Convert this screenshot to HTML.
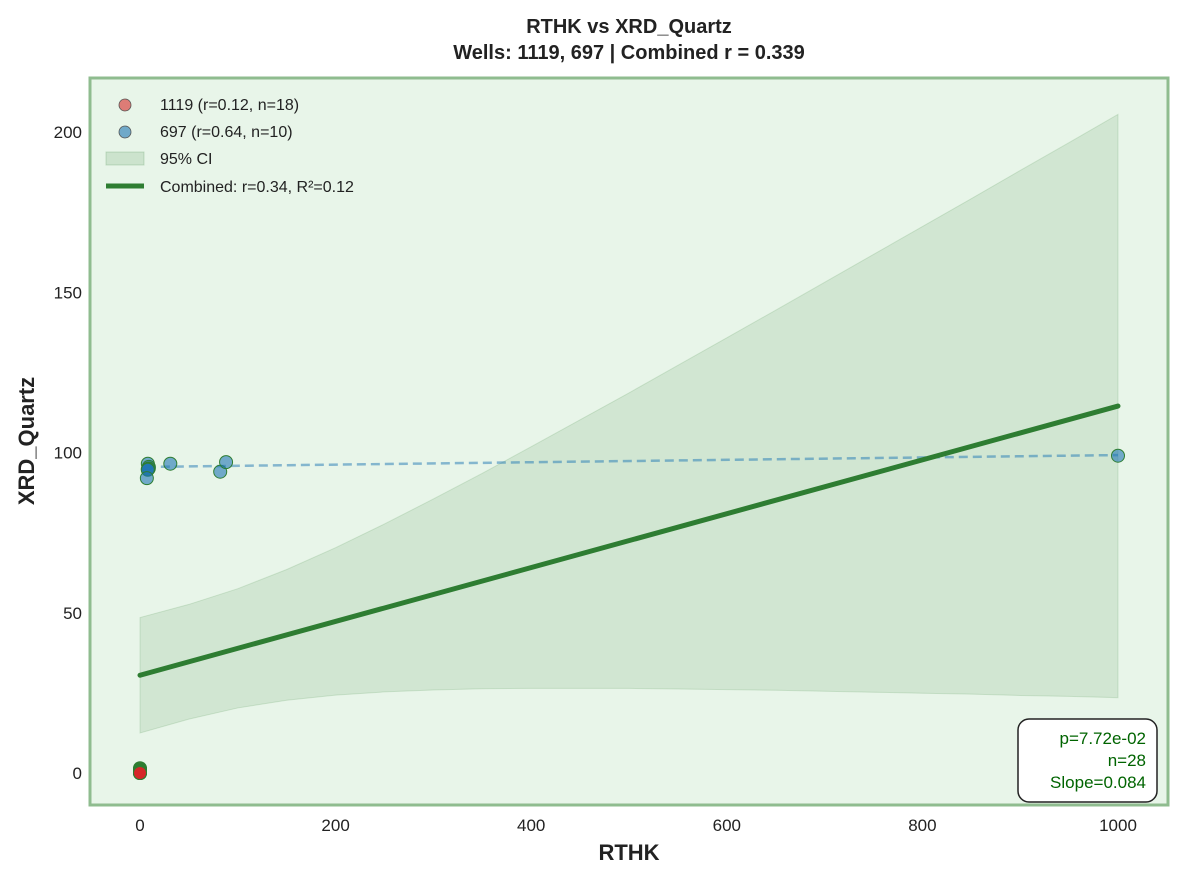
<!DOCTYPE html>
<html><head><meta charset="utf-8"><style>
body{margin:0;background:#fff;font-family:"Liberation Sans",sans-serif}
</style></head><body>
<svg id="chart" width="1182" height="880" viewBox="0 0 1182 880" xmlns="http://www.w3.org/2000/svg" font-family="Liberation Sans, sans-serif">
<text x="629" y="33" text-anchor="middle" font-size="20" font-weight="bold" fill="#222">RTHK vs XRD_Quartz</text>
<text x="629" y="59" text-anchor="middle" font-size="20" font-weight="bold" fill="#222">Wells: 1119, 697 | Combined r = 0.339</text>
<rect x="90" y="78" width="1078" height="727" fill="#e8f5e9" stroke="#8fbc8f" stroke-width="3"/>
<g id="ticks"></g>
<g id="band"></g>
<g id="marks"></g>
<text x="629" y="860" text-anchor="middle" font-size="22" font-weight="bold" fill="#222">RTHK</text>
<text transform="translate(34,441) rotate(-90)" text-anchor="middle" font-size="22" font-weight="bold" fill="#222">XRD_Quartz</text>
<g font-size="16" fill="#222">
<circle cx="125" cy="105" r="6" fill="#d9534f" fill-opacity="0.75" stroke="#555" stroke-width="0.8"/>
<text x="160" y="110">1119 (r=0.12, n=18)</text>
<circle cx="125" cy="132" r="6" fill="#1f77b4" fill-opacity="0.6" stroke="#555" stroke-width="0.8"/>
<text x="160" y="137">697 (r=0.64, n=10)</text>
<rect x="106" y="152" width="38" height="13" fill="#2e7d32" fill-opacity="0.15" stroke="#2e7d32" stroke-opacity="0.2"/>
<text x="160" y="164">95% CI</text>
<line x1="106" y1="186" x2="144" y2="186" stroke="#2e7d32" stroke-width="5"/>
<text x="160" y="192">Combined: r=0.34, R²=0.12</text>
</g>
<g>
<rect x="1018" y="719" width="139" height="83" rx="11" fill="#fff" stroke="#222" stroke-width="1.5"/>
<text x="1146" y="744" text-anchor="end" font-size="17" fill="#006400">p=7.72e-02</text>
<text x="1146" y="766" text-anchor="end" font-size="17" fill="#006400">n=28</text>
<text x="1146" y="788" text-anchor="end" font-size="17" fill="#006400">Slope=0.084</text>
</g>
</svg>
<script>
const xTicks=[0,200,400,600,800,1000];
const yTicks=[0,50,100,150,200];
const ciX=[0,50,100,150,200,250,300,350,400,450,500,550,600,650,700,750,800,850,900,950,1000];
const ciLower=[12.5,16.8,20.3,22.7,24.3,25.3,25.9,26.3,26.4,26.4,26.4,26.2,26.0,25.8,25.5,25.2,24.9,24.6,24.2,23.9,23.5];
const ciUpper=[48.5,52.6,57.5,63.5,70.3,77.7,85.5,93.5,101.8,110.2,118.6,127.2,135.8,144.4,153.1,161.8,170.5,179.2,188.0,196.7,205.5];
const fitX=[0,1000];
const fitY=[30.5,114.5];
const fit697X=[7,1000];
const fit697Y=[95.5,99.2];
const x697=[8,9,9,8,8,7,31,82,88,1000];
const y697=[96.5,95.5,95,94.8,94.6,92,96.5,94,97,99];
const x1119=[0,0,0,0,0,0,0,0,0,0,0,0,0,0,0,0,0,0];
const y1119=[1.5,1.2,1,0.8,0.6,0.5,0.4,0.3,0.2,0.1,0,0,0,0,0,0,0,0];
const sx=v=>140+v*0.978, sy=v=>773-v*3.205;
const NS="http://www.w3.org/2000/svg";
function mk(tag,attrs,parent){const e=document.createElementNS(NS,tag);for(const k in attrs)e.setAttribute(k,attrs[k]);document.getElementById(parent).appendChild(e);return e;}
xTicks.forEach(t=>{const e=mk('text',{x:sx(t),y:831,'text-anchor':'middle','font-size':17,fill:'#222'},'ticks');e.textContent=t;

});
yTicks.forEach(t=>{const e=mk('text',{x:82,y:sy(t)+6,'text-anchor':'end','font-size':17,fill:'#222'},'ticks');e.textContent=t;

});
let pts=ciX.map((x,i)=>sx(x)+','+sy(ciUpper[i]));
for(let i=ciX.length-1;i>=0;i--)pts.push(sx(ciX[i])+','+sy(ciLower[i]));
const band=mk('polygon',{points:pts.join(' '),fill:'#2e7d32','fill-opacity':0.12,stroke:'#2e7d32','stroke-opacity':0.15},'band');


const l697=mk('line',{x1:sx(fit697X[0]),y1:sy(fit697Y[0]),x2:sx(fit697X[1]),y2:sy(fit697Y[1]),stroke:'#1f77b4','stroke-opacity':0.5,'stroke-width':2.5,'stroke-dasharray':'9,5'},'marks');


x697.forEach((x,i)=>{const c=mk('circle',{cx:sx(x),cy:sy(y697[i]),r:6.5,fill:'#1f77b4','fill-opacity':0.6,stroke:'#2e7d32','stroke-width':1},'marks');

});
x1119.forEach((x,i)=>{const c=mk('circle',{cx:sx(x),cy:sy(y1119[i]),r:6.5,fill:'#d62728','fill-opacity':0.7,stroke:'#2e7d32','stroke-width':1},'marks');

});
const fl=mk('line',{x1:sx(fitX[0]),y1:sy(fitY[0]),x2:sx(fitX[1]),y2:sy(fitY[1]),stroke:'#2e7d32','stroke-width':5,'stroke-linecap':'round'},'marks');


</script>
</body></html>
